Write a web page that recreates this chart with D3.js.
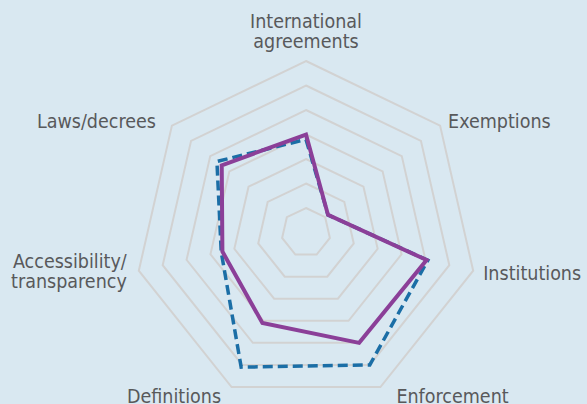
<!DOCTYPE html>
<html>
<head>
<meta charset="utf-8">
<script src="https://cdn.jsdelivr.net/npm/d3@7"></script>
<style>
  html, body { margin: 0; padding: 0; background: #d9e8f1; }
  .label { font-family: "DejaVu Sans Condensed", "Liberation Sans Narrow", sans-serif; font-size: 19.5px; fill: #58595b; }
</style>
</head>
<body>
<div id="canvas"></div>
<script>
// axes clockwise from the top
const axes = ["International agreements", "Exemptions", "Institutions", "Enforcement",
    "Definitions", "Accessibility/transparency", "Laws/decrees"];
const axisLines = [["International", "agreements"], ["Exemptions"], ["Institutions"], ["Enforcement"],
    ["Definitions"], ["Accessibility/", "transparency"], ["Laws/decrees"]];
const solidValues = [4.0, 1.15, 5.05, 5.0, 4.1, 3.5, 4.4];
const dashedValues = [3.8, 1.15, 5.1, 6.0, 6.1, 3.55, 4.65];
const levels = [1, 2, 3, 4, 5, 6, 7];

const width = 587;
const height = 404;
const center = { x: 306, y: 232.5 };
const radius = 171.5;

// label nudges relative to the outer ring vertex: [dx, dy of first baseline, anchor]
const labelPos = [
    [0, -33, "middle"],
    [8, 2.5, "start"],
    [10, 9.5, "start"],
    [16, 16, "start"],
    [-10.5, 16, "end"],
    [-12, -2.5, "end"],
    [-16, 2.5, "end"]
];

const svg = d3.select("#canvas").append("svg")
    .attr("width", width)
    .attr("height", height);

svg.append("rect")
    .attr("width", width)
    .attr("height", height)
    .attr("fill", "#d9e8f1");

const g = svg.append("g")
    .attr("transform", `translate(${center.x}, ${center.y})`);

const r = d3.scaleLinear()
    .domain([0, d3.max(levels)])
    .range([0, radius]);

const angle = d3.scalePoint()
    .domain(axes)
    .range([0, 2 * Math.PI * (axes.length - 1) / axes.length]);

const radial = d3.lineRadial()
    .angle(d => angle(d.axis))
    .radius(d => r(d.value))
    .curve(d3.curveLinearClosed);

// grid rings
g.selectAll(".ring")
    .data(levels)
    .enter().append("path")
    .attr("class", "ring")
    .attr("d", lv => radial(axes.map(a => ({ axis: a, value: lv }))))
    .attr("fill", "none")
    .attr("stroke", "#d2d2d2")
    .attr("stroke-width", 2);

const series = [
    { values: dashedValues, color: "#1b6ea6", dash: "10,5", width: 3.5 },
    { values: solidValues, color: "#8b3f98", dash: null, width: 4 }
];

g.selectAll(".series")
    .data(series)
    .enter().append("path")
    .attr("class", "series")
    .attr("d", s => radial(axes.map((a, i) => ({ axis: a, value: s.values[i] }))))
    .attr("fill", "none")
    .attr("stroke", s => s.color)
    .attr("stroke-width", s => s.width)
    .attr("stroke-dasharray", s => s.dash)
    .attr("stroke-linejoin", "miter");

// axis labels
const point = (a, v) => {
    const t = angle(a) - Math.PI / 2;
    return [r(v) * Math.cos(t), r(v) * Math.sin(t)];
};

const labels = g.selectAll(".label")
    .data(axes)
    .enter().append("text")
    .attr("class", "label")
    .attr("text-anchor", (a, i) => labelPos[i][2])
    .attr("transform", (a, i) => {
        const p = point(a, d3.max(levels));
        return `translate(${p[0] + labelPos[i][0]}, ${p[1] + labelPos[i][1]})`;
    });

labels.selectAll("tspan")
    .data((a, i) => axisLines[i])
    .enter().append("tspan")
    .attr("x", 0)
    .attr("dy", (d, j) => j === 0 ? 0 : 20)
    .text(d => d);
</script>
</body>
</html>
